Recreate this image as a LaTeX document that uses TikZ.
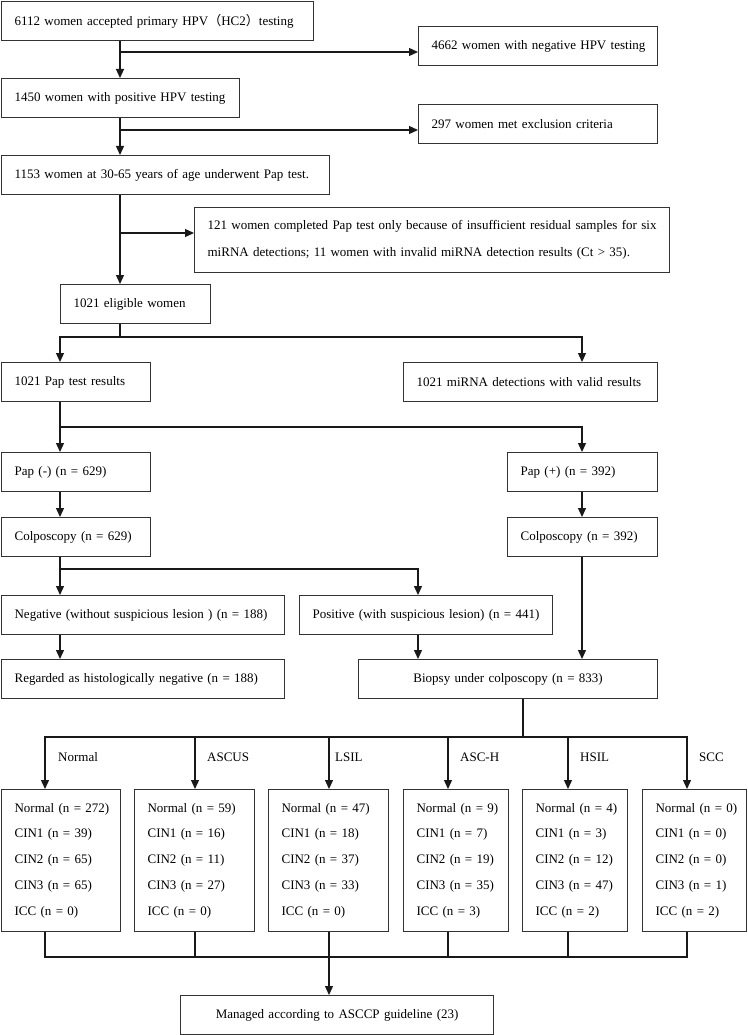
\documentclass[tikz,border=0pt]{standalone}
\usepackage{fontspec}
\setmainfont{Liberation Serif}
\newfontfamily\cjk{Noto Sans CJK SC}
\usetikzlibrary{arrows.meta}
\begin{document}
\begin{tikzpicture}[x=1pt,y=-1pt,
  every node/.style={font=\fontsize{13}{16}\selectfont},
  box/.style={draw=black!80, line width=1.2pt, anchor=north west, inner xsep=13pt, inner ysep=0pt, minimum height=39pt, align=left},
  cbox/.style={box, align=center},
  multi/.style={font=\fontsize{13}{25.75}\selectfont, minimum height=142pt},
  arr/.style={draw=black!90, line width=1.3pt, -{Triangle[length=9pt,width=8pt]}},
  ln/.style={draw=black!90, line width=1.3pt, line cap=rect},
  lab/.style={anchor=west, inner sep=0pt}]
\useasboundingbox (0,0) rectangle (747,1035);

% boxes
\node[box, text width=286pt] (b1) at (1,1) {\mbox{6112 women accepted primary HPV{\cjk（}HC2{\cjk）}testing}};
\node[box, text width=213pt] (bneg) at (418,26) {\mbox{4662 women with negative HPV testing}};
\node[box, text width=212pt] (b2) at (1,78) {\mbox{1450 women with positive HPV testing}};
\node[box, text width=213pt] (bexc) at (418,104) {\mbox{297 women met exclusion criteria}};
\node[box, text width=302pt] (b3) at (1,155) {\mbox{1153 women at 30-65 years of age underwent Pap test.}};
\node[box, text width=449pt, minimum height=65pt, font=\fontsize{13}{27}\selectfont] (b4) at (194,207)
  {\mbox{121 women completed Pap test only because of insufficient residual samples for six}\\
   \mbox{miRNA detections; 11 women with invalid miRNA detection results (Ct > 35).}};
\node[box, text width=124pt] (b5) at (60,284) {\mbox{1021 eligible women}};
\node[box, text width=123pt] (b6) at (1,362) {\mbox{1021 Pap test results}};
\node[box, text width=228pt] (b7) at (403,362) {\mbox{1021 miRNA detections with valid results}};
\node[box, text width=123pt] (b8) at (1,452) {\mbox{Pap (-) (n = 629)}};
\node[box, text width=124pt] (b9) at (507,452) {\mbox{Pap (+) (n = 392)}};
\node[box, text width=123pt] (b10) at (1,517) {\mbox{Colposcopy (n = 629)}};
\node[box, text width=124pt] (b11) at (507,517) {\mbox{Colposcopy (n = 392)}};
\node[box, text width=257pt] (b12) at (1,595) {\mbox{Negative (without suspicious lesion ) (n = 188)}};
\node[box, text width=227pt] (b13) at (299,595) {\mbox{Positive (with suspicious lesion) (n = 441)}};
\node[box, text width=257pt] (b14) at (1,659) {\mbox{Regarded as histologically negative (n = 188)}};
\node[cbox, text width=273pt] (b15) at (358,659) {\mbox{Biopsy under colposcopy (n = 833)}};

\node[box, multi, text width=93pt] (rA) at (1,789)
  {\mbox{Normal (n = 272)}\\\mbox{CIN1 (n = 39)}\\\mbox{CIN2 (n = 65)}\\\mbox{CIN3 (n = 65)}\\\mbox{ICC (n = 0)}};
\node[box, multi, text width=94pt] (rB) at (134,789)
  {\mbox{Normal (n = 59)}\\\mbox{CIN1 (n = 16)}\\\mbox{CIN2 (n = 11)}\\\mbox{CIN3 (n = 27)}\\\mbox{ICC (n = 0)}};
\node[box, multi, text width=94pt] (rC) at (268,789)
  {\mbox{Normal (n = 47)}\\\mbox{CIN1 (n = 18)}\\\mbox{CIN2 (n = 37)}\\\mbox{CIN3 (n = 33)}\\\mbox{ICC (n = 0)}};
\node[box, multi, text width=79pt] (rD) at (403,789)
  {\mbox{Normal (n = 9)}\\\mbox{CIN1 (n = 7)}\\\mbox{CIN2 (n = 19)}\\\mbox{CIN3 (n = 35)}\\\mbox{ICC (n = 3)}};
\node[box, multi, text width=79pt] (rE) at (522,789)
  {\mbox{Normal (n = 4)}\\\mbox{CIN1 (n = 3)}\\\mbox{CIN2 (n = 12)}\\\mbox{CIN3 (n = 47)}\\\mbox{ICC (n = 2)}};
\node[box, multi, text width=78pt] (rF) at (642,789)
  {\mbox{Normal (n = 0)}\\\mbox{CIN1 (n = 0)}\\\mbox{CIN2 (n = 0)}\\\mbox{CIN3 (n = 1)}\\\mbox{ICC (n = 2)}};
\node[cbox, text width=287pt] (fin) at (180,995) {\mbox{Managed according to ASCCP guideline (23)}};

% branch labels
\node[lab] (lA) at (58,757) {Normal};
\node[lab] (lB) at (207,757) {ASCUS};
\node[lab] (lC) at (335,757) {LSIL};
\node[lab] (lD) at (460,757) {ASC-H};
\node[lab] (lE) at (580,757) {HSIL};
\node[lab] (lF) at (699,757) {SCC};

% trunk connectors
\coordinate (t1) at (120,52);
\coordinate (t2) at (120,130);
\coordinate (t3) at (120,233);
\draw[arr] (b1.south -| t1) -- (b2.north -| t1);
\draw[arr] (t1) -- (bneg.west |- t1);
\draw[arr] (b2.south -| t2) -- (b3.north -| t2);
\draw[arr] (t2) -- (bexc.west |- t2);
\draw[arr] (b3.south -| t3) -- (b5.north -| t3);
\draw[arr] (t3) -- (b4.west |- t3);

\coordinate (s1) at (120,337);
\coordinate (s1l) at (60,337);
\coordinate (s1r) at (582,337);
\draw[ln] (b5.south -| s1) -- (s1);
\draw[ln] (s1l) -- (s1r);
\draw[arr] (s1l) -- (b6.north -| s1l);
\draw[arr] (s1r) -- (b7.north -| s1r);

\coordinate (s2l) at (60,427);
\coordinate (s2r) at (582,427);
\draw[ln] (b6.south -| s2l) -- (s2l) -- (s2r);
\draw[arr] (s2l) -- (b8.north -| s2l);
\draw[arr] (s2r) -- (b9.north -| s2r);

\draw[arr] (b8.south -| s2l) -- (b10.north -| s2l);
\draw[arr] (b9.south -| s2r) -- (b11.north -| s2r);

\coordinate (s3l) at (60,569);
\coordinate (s3r) at (418,569);
\draw[ln] (b10.south -| s3l) -- (s3l) -- (s3r);
\draw[arr] (s3l) -- (b12.north -| s3l);
\draw[arr] (s3r) -- (b13.north -| s3r);
\draw[arr] (b11.south -| s2r) -- (b15.north -| s2r);
\draw[arr] (b12.south -| s3l) -- (b14.north -| s3l);
\draw[arr] (b13.south -| s3r) -- (b15.north -| s3r);

% split to six categories
\coordinate (s4) at (523,737);
\coordinate (dA) at (45,737);
\coordinate (dB) at (195,737);
\coordinate (dC) at (329,737);
\coordinate (dD) at (448,737);
\coordinate (dE) at (568,737);
\coordinate (dF) at (687,737);
\draw[ln] (b15.south -| s4) -- (s4);
\draw[ln] (dA) -- (dF);
\draw[arr] (dA) -- (rA.north -| dA);
\draw[arr] (dB) -- (rB.north -| dB);
\draw[arr] (dC) -- (rC.north -| dC);
\draw[arr] (dD) -- (rD.north -| dD);
\draw[arr] (dE) -- (rE.north -| dE);
\draw[arr] (dF) -- (rF.north -| dF);

% merge
\coordinate (mA) at (45,957);
\coordinate (mB) at (195,957);
\coordinate (mC) at (329,957);
\coordinate (mD) at (448,957);
\coordinate (mE) at (568,957);
\coordinate (mF) at (687,957);
\draw[ln] (rA.south -| mA) -- (mA);
\draw[ln] (rB.south -| mB) -- (mB);
\draw[ln] (rC.south -| mC) -- (mC);
\draw[ln] (rD.south -| mD) -- (mD);
\draw[ln] (rE.south -| mE) -- (mE);
\draw[ln] (rF.south -| mF) -- (mF);
\draw[ln] (mA) -- (mF);
\draw[arr] (mC) -- (fin.north -| mC);
\end{tikzpicture}
\end{document}
